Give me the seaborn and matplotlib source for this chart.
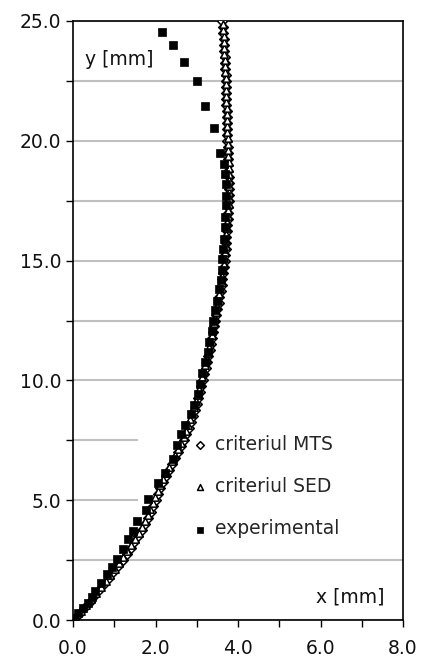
import matplotlib
matplotlib.use("Agg")
import matplotlib.pyplot as plt
import matplotlib.patches as mpatches
from matplotlib.ticker import MultipleLocator, FormatStrFormatter
import seaborn as sns
import numpy as np

# criteriul MTS (y from 0 to 25 every 0.25 mm)
mts_y = [i * 0.25 for i in range(101)]
mts_x = [0.00, 0.14, 0.27, 0.40, 0.52, 0.64, 0.75, 0.87, 0.98, 1.09,
         1.20, 1.30, 1.40, 1.49, 1.58, 1.67, 1.75, 1.81, 1.88, 1.94,
         2.00, 2.06, 2.12, 2.19, 2.25, 2.33, 2.40, 2.48, 2.55, 2.63,
         2.70, 2.75, 2.80, 2.85, 2.90, 2.95, 3.00, 3.04, 3.08, 3.11,
         3.15, 3.18, 3.22, 3.25, 3.28, 3.31, 3.34, 3.37, 3.40, 3.42,
         3.45, 3.47, 3.50, 3.53, 3.55, 3.58, 3.60, 3.62, 3.64, 3.66,
         3.68, 3.69, 3.70, 3.71, 3.72, 3.73, 3.74, 3.75, 3.76, 3.76,
         3.77, 3.77, 3.77, 3.77, 3.77, 3.76, 3.76, 3.76, 3.75, 3.75,
         3.74, 3.74, 3.74, 3.73, 3.73, 3.73, 3.72, 3.72, 3.72, 3.71,
         3.70, 3.70, 3.69, 3.68, 3.68, 3.67, 3.66, 3.65, 3.64, 3.63,
         3.62]

# criteriul SED (y from 0.125 every 0.25 mm)
sed_y = [0.125 + i * 0.25 for i in range(100)]
sed_x = [0.06, 0.19, 0.32, 0.44, 0.56, 0.67, 0.79, 0.90, 1.01, 1.12,
         1.22, 1.32, 1.41, 1.50, 1.59, 1.67, 1.74, 1.81, 1.87, 1.93,
         1.99, 2.05, 2.11, 2.18, 2.25, 2.32, 2.39, 2.47, 2.54, 2.61,
         2.68, 2.73, 2.78, 2.83, 2.88, 2.93, 2.98, 3.02, 3.06, 3.10,
         3.13, 3.17, 3.20, 3.24, 3.27, 3.30, 3.33, 3.36, 3.39, 3.41,
         3.44, 3.47, 3.49, 3.52, 3.55, 3.57, 3.60, 3.62, 3.64, 3.66,
         3.67, 3.69, 3.70, 3.71, 3.72, 3.73, 3.74, 3.75, 3.76, 3.77,
         3.77, 3.78, 3.78, 3.78, 3.77, 3.77, 3.77, 3.76, 3.76, 3.75,
         3.75, 3.74, 3.74, 3.73, 3.73, 3.73, 3.72, 3.72, 3.71, 3.71,
         3.70, 3.69, 3.69, 3.68, 3.67, 3.66, 3.66, 3.65, 3.64, 3.63]

# experimental
exp_x = [0.00, 0.13, 0.25, 0.37, 0.45, 0.53, 0.67, 0.82, 0.94, 1.07,
         1.20, 1.34, 1.46, 1.56, 1.77, 1.83, 2.07, 2.23, 2.43, 2.51,
         2.63, 2.72, 2.85, 2.93, 3.04, 3.08, 3.12, 3.20, 3.27, 3.30,
         3.36, 3.40, 3.45, 3.50, 3.55, 3.58, 3.60, 3.62, 3.64, 3.66,
         3.68, 3.69, 3.70, 3.70, 3.70, 3.68, 3.66, 3.56, 3.42, 3.19,
         3.00, 2.69, 2.42, 2.15]
exp_y = [0.07, 0.28, 0.49, 0.72, 0.95, 1.22, 1.53, 1.90, 2.20, 2.54,
         2.96, 3.37, 3.72, 4.14, 4.58, 5.04, 5.72, 6.12, 6.74, 7.29,
         7.78, 8.12, 8.61, 8.96, 9.45, 9.86, 10.30, 10.75, 11.20, 11.60,
         12.05, 12.50, 12.95, 13.30, 13.80, 14.20, 14.60, 15.05, 15.50, 15.90,
         16.40, 16.80, 17.30, 17.70, 18.20, 18.60, 19.05, 19.50, 20.53, 21.46,
         22.49, 23.28, 23.99, 24.54]

sns.set_style("white")
plt.rcParams['font.family'] = ['DejaVu Sans']

fig = plt.figure(figsize=(4.22, 6.62), dpi=100)
ax = fig.add_axes([73 / 422, 42 / 662, 330 / 422, 599 / 662])

sns.scatterplot(x=mts_x, y=mts_y, ax=ax, marker='D', s=24, color='white',
                edgecolor='black', linewidth=1.1, label='criteriul MTS', zorder=3)
sns.scatterplot(x=sed_x, y=sed_y, ax=ax, marker='^', s=28, color='white',
                edgecolor='black', linewidth=1.1, label='criteriul SED', zorder=3)
sns.scatterplot(x=exp_x, y=exp_y, ax=ax, marker='s', s=36, color='black',
                edgecolor='black', linewidth=0.5, label='experimental', zorder=4)

ax.set_xlim(0, 8)
ax.set_ylim(0, 25)
ax.xaxis.set_major_locator(MultipleLocator(2))
ax.xaxis.set_minor_locator(MultipleLocator(1))
ax.yaxis.set_major_locator(MultipleLocator(5))
ax.yaxis.set_minor_locator(MultipleLocator(2.5))
ax.xaxis.set_major_formatter(FormatStrFormatter('%.1f'))
ax.yaxis.set_major_formatter(FormatStrFormatter('%.1f'))
ax.tick_params(which='both', direction='out', length=5, width=1, color='black',
               bottom=True, left=True, labelsize=13.5, labelcolor='#111111')
ax.tick_params(axis='x', pad=9)
ax.grid(False)
ax.yaxis.grid(True, which='both', color='#c0c0c0', linewidth=1.5)
ax.set_axisbelow(True)
for sp in ax.spines.values():
    sp.set_color('black')
    sp.set_linewidth(1.2)

# white legend area
ax.add_patch(mpatches.Rectangle((65 / 330, 75 / 599), 265 / 330, 125 / 599,
                                transform=ax.transAxes, facecolor='white',
                                edgecolor='none', zorder=1.5))
leg = ax.legend(loc='upper left', bbox_to_anchor=(0.345, 0.322), frameon=False,
                fontsize=13.5, handlelength=0.6, handletextpad=0.5,
                labelspacing=1.25, borderaxespad=0, markerscale=0.8)
leg.set_zorder(2)

ax.text(0.3, 23.4, 'y [mm]', fontsize=13.5, ha='left', va='center', color='#111111')
ax.text(7.55, 0.95, 'x [mm]', fontsize=13.5, ha='right', va='center', color='#111111')
ax.set_xlabel('')
ax.set_ylabel('')

fig.savefig('out.png', dpi=100)
